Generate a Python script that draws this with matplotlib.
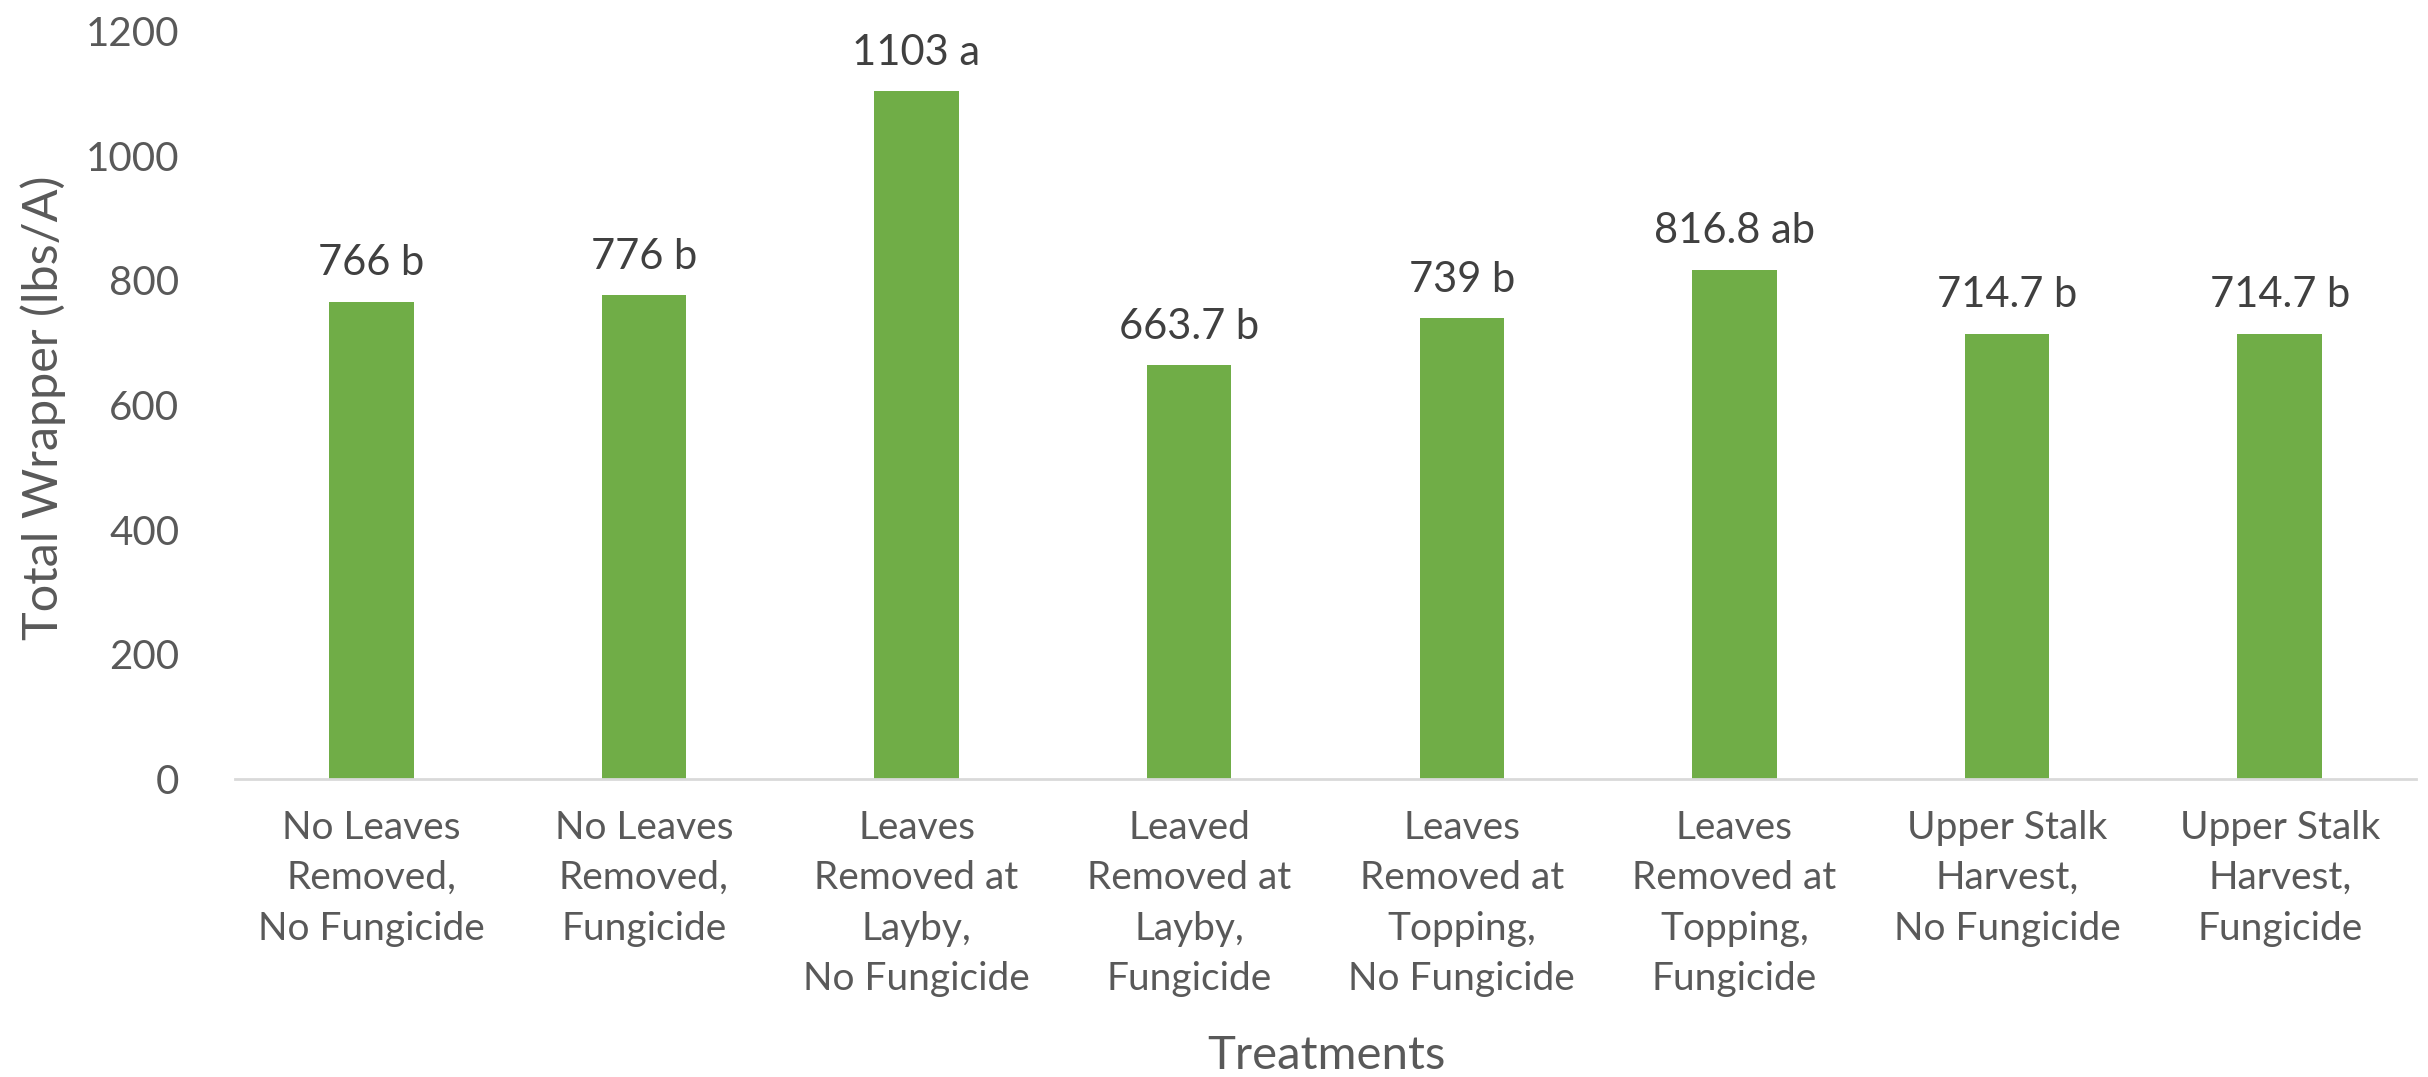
import matplotlib.pyplot as plt
import numpy as np

categories = [
    "No Leaves\nRemoved,\nNo Fungicide",
    "No Leaves\nRemoved,\nFungicide",
    "Leaves\nRemoved at\nLayby,\nNo Fungicide",
    "Leaved\nRemoved at\nLayby,\nFungicide",
    "Leaves\nRemoved at\nTopping,\nNo Fungicide",
    "Leaves\nRemoved at\nTopping,\nFungicide",
    "Upper Stalk\nHarvest,\nNo Fungicide",
    "Upper Stalk\nHarvest,\nFungicide",
]
values = [766, 776, 1103, 663.7, 739, 816.8, 714.7, 714.7]
letters = ["b", "b", "a", "b", "b", "ab", "b", "b"]
value_text = ["766", "776", "1103", "663.7", "739", "816.8", "714.7", "714.7"]
y_ticks = [0, 200, 400, 600, 800, 1000, 1200]

plt.rcParams['font.family'] = ['Lato', 'DejaVu Sans']

fig = plt.figure(figsize=(24.28, 10.77), dpi=100)
ax = fig.add_axes([235 / 2428, 1 - 779 / 1077, (2416 - 235) / 2428, (779 - 31) / 1077])

x = np.arange(len(categories))
bars = ax.bar(x, values, width=0.31, color='#70AD47', zorder=2)

for b, v, l in zip(bars, value_text, letters):
    ax.annotate(f"{v} {l}", (b.get_x() + b.get_width() / 2, b.get_height()),
                xytext=(0, 14), textcoords='offset points', ha='center', va='bottom',
                fontsize=30, color='#404040')

ax.set_xlim(-0.5, len(categories) - 0.5)
ax.set_ylim(0, 1200)
ax.set_yticks(y_ticks)
ax.set_xticks(x)
ax.set_xticklabels(categories, fontsize=28, color='#595959', linespacing=1.5, va='top')
ax.tick_params(axis='y', labelsize=29, labelcolor='#595959', length=0, pad=40)
ax.tick_params(axis='x', length=0, pad=22)

for s in ['top', 'right', 'left']:
    ax.spines[s].set_visible(False)
ax.spines['bottom'].set_color('#D9D9D9')
ax.spines['bottom'].set_linewidth(2)

fig.text(43 / 2428, 1 - 408 / 1077, "Total Wrapper (lbs/A)", rotation=90, ha='center', va='center',
         fontsize=35, color='#595959')
fig.text(1326 / 2428, 1 - 1056 / 1077, "Treatments", ha='center', va='center',
         fontsize=34, color='#595959')

fig.savefig('out.png', dpi=100)
